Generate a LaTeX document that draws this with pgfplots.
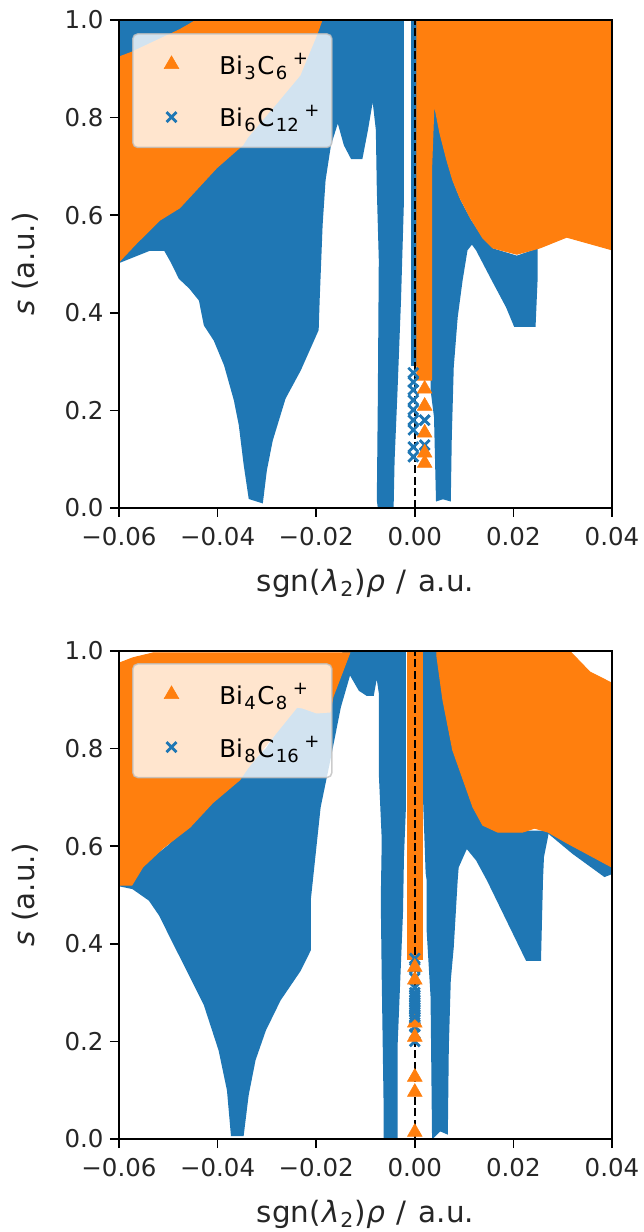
\documentclass[border=0pt]{standalone}
\usepackage{fontspec}
\setmainfont{DejaVu Sans}
\usepackage{pgfplots}
\pgfplotsset{compat=1.18}
\definecolor{tabblue}{HTML}{1F77B4}
\definecolor{taborange}{HTML}{FF7F0E}
\newcommand{\fs}{\fontsize{24.5}{29}\selectfont}
\newcommand{\flab}{\fontsize{29.4}{31}\selectfont}
\newcommand{\sbb}[1]{\hspace{1.5pt}\raisebox{-5pt}{\fontsize{18}{18}\selectfont #1}\hspace{1.5pt}}
\newcommand{\spp}[1]{\hspace{4pt}\raisebox{10pt}{\fontsize{18}{18}\selectfont #1}}
\pgfplotsset{
  panel/.style={
    scale only axis, width=493pt, height=488pt, anchor=south west,
    xmin=-0.06, xmax=0.04, ymin=0, ymax=1,
    scaled x ticks=false,
    xtick={-0.06,-0.04,-0.02,0,0.02,0.04},
    xticklabels={−0.06,−0.04,−0.02,0.00,0.02,0.04},
    ytick={0,0.2,0.4,0.6,0.8,1},
    yticklabels={0.0,0.2,0.4,0.6,0.8,1.0},
    tick align=outside, xtick pos=bottom, ytick pos=left,
    major tick length=9pt, every tick/.style={black,line width=1.7pt},
    axis line style={line width=1.7pt, black},
    axis on top,
    tick label style={font=\fs, text=black!85},
    label style={font=\flab, text=black!85},
    xticklabel style={yshift=-7pt},
    yticklabel style={xshift=-3pt},
    xlabel={sgn(\hspace{1pt}\textit{λ}\hspace{1pt}\raisebox{-5pt}{\fontsize{20.5}{20}\selectfont 2}\hspace{1.5pt})\textit{ρ}\hspace{2.5pt} / \hspace{2.5pt}a.u.},
    ylabel={\textit{s} (a.u.)},
    xlabel style={at={(axis description cs:0.5,0)},anchor=north,inner sep=0pt,yshift=-61pt},
    ylabel style={at={(axis description cs:0,0.5)},anchor=south,rotate=0,yshift=77pt},
    legend cell align=left,
    legend image code/.code={\draw[mark repeat=1,##1] plot coordinates {(26.5pt,0pt)};\path (0pt,0pt) (72.5pt,0pt);},
    legend style={font=\fs, draw=black!25, line width=1.5pt, rounded corners=5pt,
      fill=white, fill opacity=0.8, draw opacity=0.8, text opacity=1,
      inner xsep=11.5pt, inner ysep=18pt, row sep=28pt, anchor=north west,
      nodes={inner sep=1pt}},
  },
  bl/.style={fill=tabblue, draw=tabblue, line width=2pt, forget plot},
  or/.style={fill=taborange, draw=taborange, line width=1pt, forget plot},
  tri/.style={only marks, mark=triangle*, mark size=8.5pt, color=taborange, mark options={fill=taborange,draw=taborange,fill opacity=1,draw opacity=1,line width=0.5pt}},
  crs/.style={only marks, mark=x, mark size=7pt, color=tabblue, mark options={draw=tabblue,draw opacity=1,line width=2.8pt}},
}
\begin{document}
\begin{tikzpicture}
\path[use as bounding box] (0pt,0pt) rectangle (644pt,1232pt);
% ---- top panel
\begin{axis}[panel, at={(119pt,724pt)}, legend style={at={(0.0264,0.973)}}]
\addplot[bl] coordinates {(-0.0600,0.504)(-0.0538,0.529)(-0.0507,0.529)(-0.0493,0.504)(-0.0477,0.471)(-0.0456,0.451)(-0.0436,0.426)(-0.0426,0.375)(-0.0406,0.344)(-0.0385,0.293)(-0.0365,0.221)(-0.0355,0.170)(-0.0345,0.088)(-0.0335,0.020)(-0.0310,0.012)(-0.0302,0.078)(-0.0290,0.139)(-0.0264,0.225)(-0.0233,0.283)(-0.0197,0.365)(-0.0195,0.426)(-0.0189,0.580)(-0.0183,0.672)(-0.0172,0.744)(-0.0156,0.795)(-0.0142,0.744)(-0.0128,0.717)(-0.0108,0.717)(-0.0097,0.775)(-0.0085,0.846)(-0.0077,0.775)(-0.0075,0.652)(-0.0071,0.508)(-0.0073,0.221)(-0.0075,0.016)(-0.0073,0)(-0.0045,0)(-0.0043,0.098)(-0.0037,0.242)(-0.0030,0.426)(-0.0024,0.631)(-0.0024,1)(-0.06,1)} -- cycle;
\addplot[bl] coordinates {(-0.0006,0.293)(0.0006,0.293)(0.0006,1)(-0.0006,1)} -- cycle;
\addplot[bl] coordinates {(0.0034,0.693)(0.0039,0.830)(0.0051,0.76)(0.0065,0.705)(0.0077,0.665)(0.0091,0.63)(0.0112,0.59)(0.0138,0.55)(0.0158,0.53)(0.0207,0.515)(0.0247,0.529)(0.0247,0.467)(0.0243,0.373)(0.0203,0.373)(0.0187,0.412)(0.0158,0.467)(0.0126,0.529)(0.0116,0.543)(0.0105,0.529)(0.0095,0.467)(0.0085,0.391)(0.0077,0.289)(0.0073,0.145)(0.0071,0.016)(0.0057,0.020)(0.0045,0.016)(0.0041,0.186)(0.0034,0.242)} -- cycle;
\addplot[crs, forget plot] coordinates {(-0.0003,0.277)(-0.0003,0.258)(-0.0003,0.242)(-0.0003,0.221)(-0.0003,0.201)(-0.0003,0.180)(-0.0003,0.160)(-0.0003,0.125)(-0.0003,0.105)(0.002,0.18)(0.002,0.129)};
\addplot[or] coordinates {(0.0004,1)(0.04,1)(0.04,0.529)(0.0308,0.555)(0.0254,0.533)(0.0207,0.520)(0.0158,0.533)(0.0138,0.553)(0.0112,0.596)(0.0091,0.637)(0.0077,0.672)(0.0065,0.713)(0.0051,0.768)(0.0039,0.830)(0.0034,0.693)(0.0034,0.262)(0.0004,0.262)} -- cycle;
\addplot[or] coordinates {(-0.06,0.924)(-0.0574,0.934)(-0.0477,0.980)(-0.0446,0.998)(-0.0189,0.998)(-0.0197,0.975)(-0.0233,0.887)(-0.0280,0.830)(-0.0339,0.760)(-0.0349,0.744)(-0.0402,0.697)(-0.0477,0.615)(-0.0517,0.590)(-0.0564,0.543)(-0.0593,0.512)(-0.06,0.504)} -- cycle;
\addplot[tri] coordinates {(0.002,0.244)(0.002,0.209)(0.002,0.154)(0.002,0.113)(0.002,0.092)};
\addlegendentry{Bi\sbb{3}C\sbb{6}\spp{+}}
\addplot[crs] coordinates {(0.002,0.18)};
\addlegendentry{Bi\sbb{6}C\sbb{12}\spp{+}}
\addplot[black, line width=1.7pt, dash pattern=on 8pt off 3.5pt, forget plot] coordinates {(0,0)(0,1)};
\end{axis}
% ---- bottom panel
\begin{axis}[panel, at={(119pt,93pt)}, legend style={at={(0.0264,0.975)}}]
\addplot[bl] coordinates {(-0.06,0.520)(-0.0572,0.514)(-0.0538,0.490)(-0.0517,0.459)(-0.0487,0.398)(-0.0456,0.336)(-0.0426,0.275)(-0.0396,0.182)(-0.0379,0.100)(-0.0371,0.008)(-0.0349,0.008)(-0.0339,0.090)(-0.0325,0.162)(-0.0304,0.223)(-0.0274,0.285)(-0.0233,0.346)(-0.0213,0.387)(-0.0213,0.490)(-0.0193,0.680)(-0.0172,0.783)(-0.0152,0.885)(-0.0132,0.955)(-0.0112,0.920)(-0.0097,0.910)(-0.0085,0.910)(-0.0077,0.955)(-0.0071,0.914)(-0.0071,0.750)(-0.0065,0.613)(-0.0067,0.490)(-0.0065,0.326)(-0.0061,0.053)(-0.0061,0)(-0.0037,0)(-0.0037,0.189)(-0.0026,0.463)(-0.0024,0.578)(-0.0020,0.680)(-0.0020,1)(-0.0140,1)(-0.02,0.95)(-0.03,0.8)(-0.05,0.6)} -- cycle;
\addplot[bl] coordinates {(0.0016,1)(0.0051,1)(0.0077,0.85)(0.012,0.7)(0.0138,0.66)(0.0168,0.63)(0.0247,0.63)(0.0270,0.629)(0.0260,0.578)(0.0258,0.531)(0.0254,0.367)(0.0227,0.367)(0.0148,0.531)(0.0126,0.572)(0.0105,0.598)(0.0087,0.557)(0.0085,0.531)(0.0077,0.393)(0.0071,0.326)(0.0067,0.189)(0.0065,0.012)(0.0051,0.018)(0.0037,0.004)(0.0034,0.291)(0.0026,0.428)(0.0026,0.531)(0.0024,0.545)(0.0016,0.777)} -- cycle;
\addplot[bl] coordinates {(0.0270,0.629)(0.0321,0.586)(0.0385,0.539)(0.04,0.545)(0.04,0.57)(0.0314,0.61)} -- cycle;
\addplot[or] coordinates {(0.0045,1)(0.0314,1)(0.0355,0.957)(0.0396,0.936)(0.04,0.934)(0.04,0.557)(0.0308,0.607)(0.0270,0.629)(0.0243,0.637)(0.0219,0.629)(0.0168,0.629)(0.0138,0.643)(0.0118,0.680)(0.0077,0.797)(0.0057,0.900)(0.0045,0.988)} -- cycle;
\addplot[or] coordinates {(-0.06,0.975)(-0.0572,0.986)(-0.0531,0.996)(-0.0132,0.996)(-0.0166,0.906)(-0.0172,0.875)(-0.0199,0.873)(-0.0227,0.883)(-0.0239,0.885)(-0.0339,0.760)(-0.0355,0.736)(-0.0410,0.689)(-0.0456,0.639)(-0.0511,0.596)(-0.0552,0.557)(-0.0574,0.520)(-0.06,0.520)} -- cycle;
\addplot[crs, forget plot] coordinates {(0,0.37)(0,0.35)(0,0.33)(0,0.31)(0,0.30)(0,0.295)(0,0.29)(0,0.285)(0,0.28)(0,0.275)(0,0.27)(0,0.265)(0,0.26)(0,0.255)(0,0.25)(0,0.245)(0,0.23)(0,0.215)(0,0.2)};
\addplot[or] coordinates {(-0.0014,0.367)(0.0016,0.367)(0.0016,1)(-0.0014,1)} -- cycle;
\addplot[tri] coordinates {(0,0.352)(0,0.326)(0,0.238)(0,0.209)(0,0.127)(0,0.096)(0,0.014)};
\addlegendentry{Bi\sbb{4}C\sbb{8}\spp{+}}
\addplot[crs] coordinates {(0,0.25)};
\addlegendentry{Bi\sbb{8}C\sbb{16}\spp{+}}
\addplot[black, line width=1.7pt, dash pattern=on 8pt off 3.5pt, forget plot] coordinates {(0,0)(0,1)};
\end{axis}
\end{tikzpicture}
\end{document}
